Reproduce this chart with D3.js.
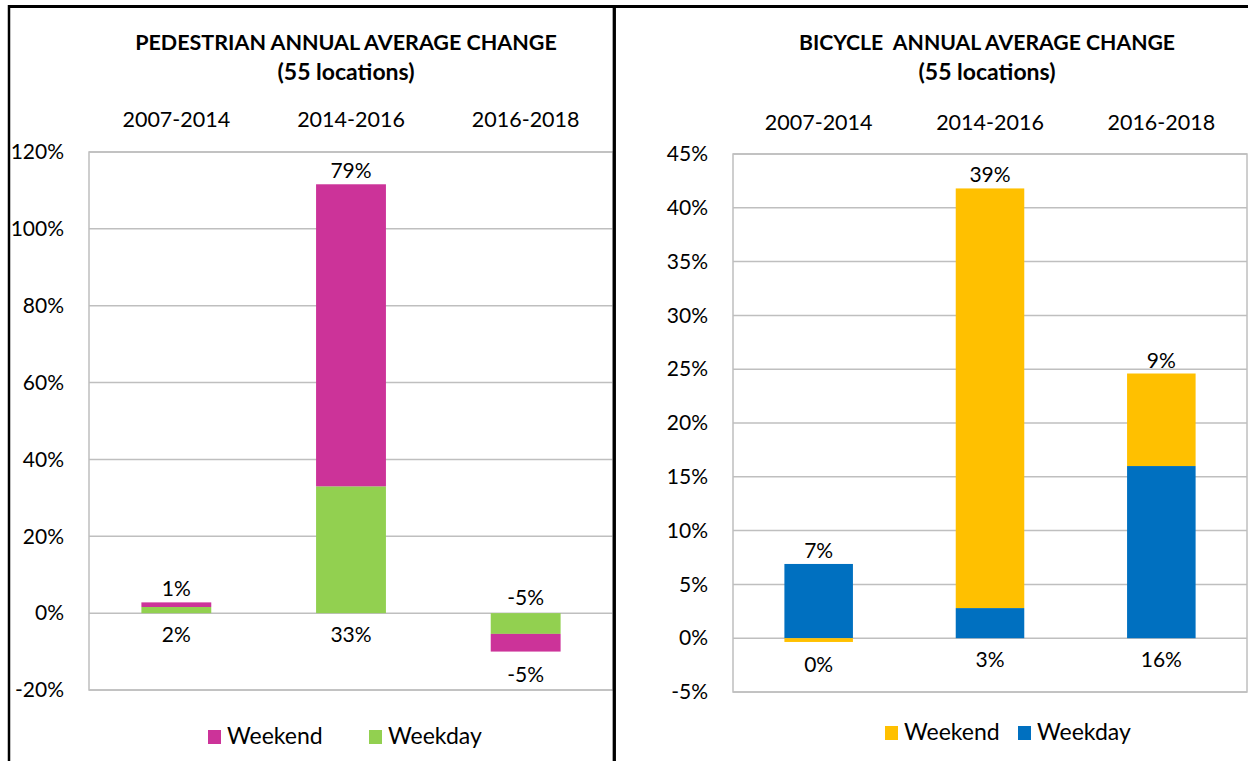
<!DOCTYPE html>
<html>
<head>
<meta charset="utf-8">
<script src="https://cdn.jsdelivr.net/npm/d3@7"></script>
<style>
  html, body { margin: 0; padding: 0; background: #fff; }
  svg { display: block; font-family: Lato, "Open Sans", sans-serif; }
  text { white-space: pre; }
</style>
</head>
<body>
<svg id="chart" width="1248" height="761"></svg>
<script>
// ---------- DATA ----------
const categories = ["2007-2014", "2014-2016", "2016-2018"];
const seriesNames = ["Weekday", "Weekend"];          // stacking order (bottom first)
const legendOrder = ["Weekend", "Weekday"];

const pedTitle = ["PEDESTRIAN ANNUAL AVERAGE CHANGE", "(55 locations)"];
const pedWeekday = [1.6, 33.0, -5.4];
const pedWeekend = [1.2, 78.6, -4.6];
const pedTicks = [-20, 0, 20, 40, 60, 80, 100, 120];
const pedColors = { Weekday: "#92D050", Weekend: "#CC3399" };

const bikeTitle = ["BICYCLE  ANNUAL AVERAGE CHANGE", "(55 locations)"];
const bikeWeekday = [6.9, 2.8, 16.0];
const bikeWeekend = [-0.35, 39.0, 8.6];
const bikeTicks = [-5, 0, 5, 10, 15, 20, 25, 30, 35, 40, 45];
const bikeColors = { Weekday: "#0070C0", Weekend: "#FFC000" };

// ---------- DRAW ----------
const svg = d3.select("#chart");
const pct = v => { const r = Math.round(v); return (r === 0 ? 0 : r) + "%"; };

function drawPanel(cfg) {
  const g = svg.append("g");
  const x = d3.scaleBand().domain(categories).range([cfg.left, cfg.right]).paddingInner(0.6).paddingOuter(0.3);
  const xc = d3.scaleBand().domain(categories).range([cfg.left, cfg.right]);
  const y = d3.scaleLinear().domain(d3.extent(cfg.ticks)).range([cfg.bottom, cfg.top]);

  // titles
  const titleSizes = [cfg.titleSize, 23];
  const titleYs = [50, 80];
  cfg.title.forEach((t, i) => {
    g.append("text").attr("x", cfg.titleX).attr("y", titleYs[i])
      .attr("text-anchor", "middle").attr("font-weight", 700).attr("font-size", titleSizes[i])
      .attr("fill", "#000").text(t);
  });

  // category labels on top
  g.selectAll(".cat").data(categories).join("text")
    .attr("x", d => xc(d) + xc.bandwidth() / 2).attr("y", cfg.catY)
    .attr("text-anchor", "middle").attr("font-size", 21.5).attr("fill", "#000").text(d => d);

  // gridlines
  g.selectAll(".grid").data(cfg.ticks).join("line")
    .attr("x1", cfg.left).attr("x2", cfg.right)
    .attr("y1", d => y(d)).attr("y2", d => y(d))
    .attr("stroke", "#BFBFBF").attr("stroke-width", 1.5);
  // plot frame
  g.append("rect").attr("x", cfg.left).attr("y", cfg.top)
    .attr("width", cfg.right - cfg.left).attr("height", cfg.bottom - cfg.top)
    .attr("fill", "none").attr("stroke", "#BFBFBF").attr("stroke-width", 1.5);

  // y axis labels
  const axis = d3.axisLeft(y).tickValues(cfg.ticks).tickFormat(d => d + "%").tickSize(0).tickPadding(0);
  const ag = g.append("g").attr("transform", `translate(${cfg.tickX},0)`).call(axis);
  ag.select(".domain").remove();
  ag.selectAll("text").attr("font-size", 21).attr("font-family", "Lato, sans-serif").attr("fill", "#000");

  // stacked bars
  const rows = categories.map((c, i) => ({ cat: c, Weekday: cfg.weekday[i], Weekend: cfg.weekend[i] }));
  const stack = d3.stack().keys(seriesNames).offset(d3.stackOffsetDiverging)(rows);

  stack.forEach(s => {
    g.selectAll(null).data(s).join("rect")
      .attr("x", d => x(d.data.cat))
      .attr("width", x.bandwidth())
      .attr("y", d => y(Math.max(d[0], d[1])))
      .attr("height", d => Math.abs(y(d[0]) - y(d[1])))
      .attr("fill", cfg.colors[s.key]);
  });

  // data labels
  const y0 = y(0);
  stack.forEach((s, si) => {
    s.forEach((d, j) => {
      const v = d.data[s.key];
      const sameSignLater = stack.slice(si + 1).some(o => Math.sign(o[j].data[o.key]) === Math.sign(v));
      let ly;
      if (v >= 0) {
        ly = sameSignLater ? y0 + 28.5 : y(d[1]) - 6;
      } else {
        ly = sameSignLater ? y0 - 8.5 : y(d[0]) + 30.5;
      }
      g.append("text").attr("x", x(d.data.cat) + x.bandwidth() / 2).attr("y", ly)
        .attr("text-anchor", "middle").attr("font-size", 21).attr("fill", "#000").text(pct(v));
    });
  });

  // legend
  let lx = cfg.legendX;
  legendOrder.forEach(k => {
    g.append("rect").attr("x", lx).attr("y", cfg.legendY - 14).attr("width", 13).attr("height", 14)
      .attr("fill", cfg.colors[k]);
    g.append("text").attr("x", lx + 19).attr("y", cfg.legendY)
      .attr("font-size", 23).attr("fill", "#000").text(k);
    lx += cfg.legendGap;
  });
}

drawPanel({
  title: pedTitle, titleX: 346, titleSize: 21.5, catY: 127,
  left: 89, right: 613, top: 152, bottom: 690,
  ticks: pedTicks, tickX: 64,
  weekday: pedWeekday, weekend: pedWeekend, colors: pedColors,
  legendX: 208, legendY: 744, legendGap: 161
});

drawPanel({
  title: bikeTitle, titleX: 987, titleSize: 21.2, catY: 130,
  left: 733, right: 1247, top: 154, bottom: 692,
  ticks: bikeTicks, tickX: 708,
  weekday: bikeWeekday, weekend: bikeWeekend, colors: bikeColors,
  legendX: 885, legendY: 740, legendGap: 133
});

// black frame
svg.append("line").attr("x1", 8).attr("x2", 1248).attr("y1", 6.5).attr("y2", 6.5)
  .attr("stroke", "#000").attr("stroke-width", 3);
svg.append("line").attr("x1", 9).attr("x2", 9).attr("y1", 5).attr("y2", 761)
  .attr("stroke", "#000").attr("stroke-width", 2.5);
svg.append("line").attr("x1", 614.3).attr("x2", 614.3).attr("y1", 5).attr("y2", 761)
  .attr("stroke", "#000").attr("stroke-width", 3.3);
</script>
</body>
</html>
